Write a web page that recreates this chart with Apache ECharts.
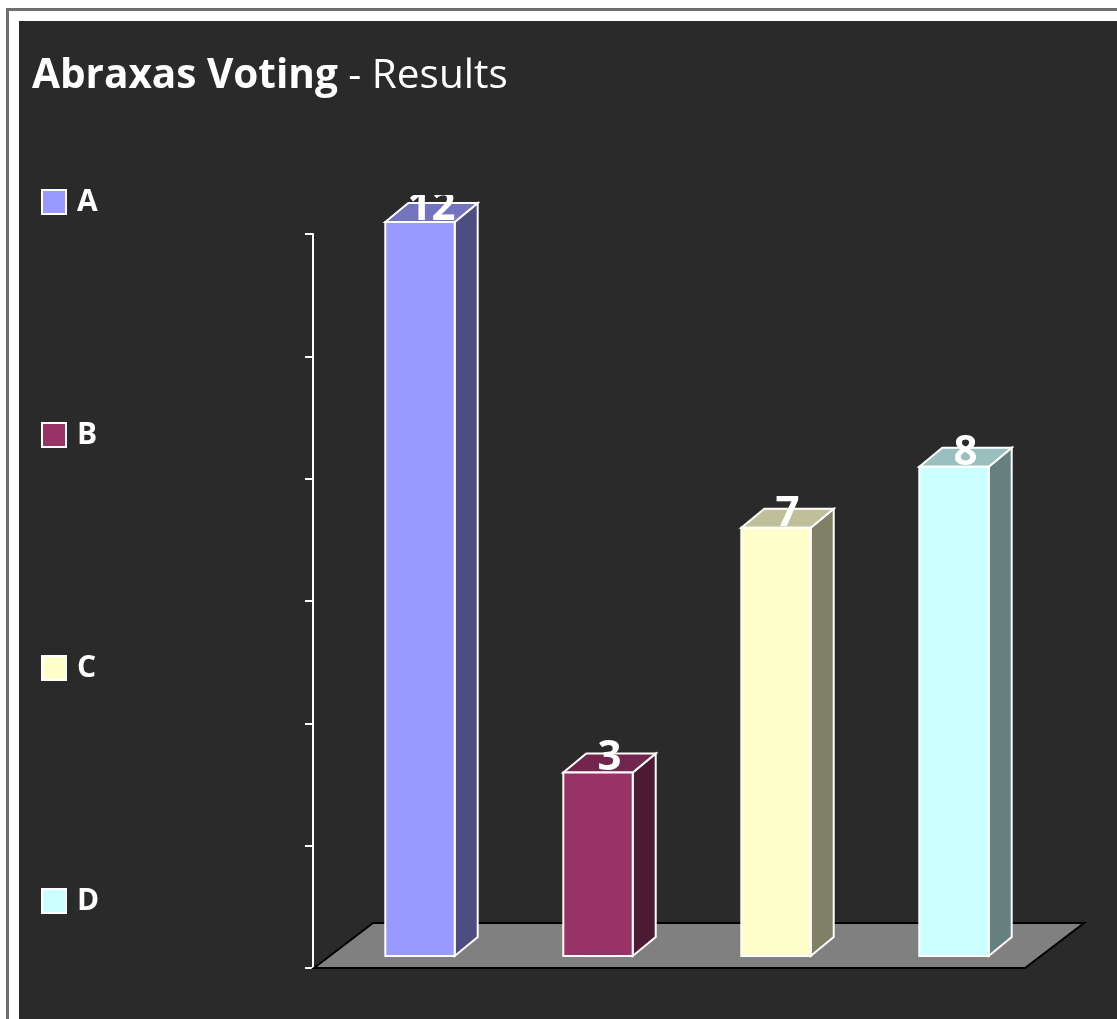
<!DOCTYPE html>
<html>
<head>
<meta charset="utf-8">
<script src="https://cdn.jsdelivr.net/npm/echarts@6/dist/echarts.min.js"></script>
<style>
  html, body { margin: 0; padding: 0; background: #ffffff; overflow: hidden; width: 1117px; height: 1019px; }
  #frame { position: absolute; left: 6px; top: 8px; width: 1200px; height: 1100px; border-top: 3px solid #6e6e6e; border-left: 3px solid #6e6e6e; }
  #chart { position: absolute; left: 19px; top: 21px; width: 1098px; height: 998px; background: #2a2a2a; }
</style>
</head>
<body>
<div id="frame"></div>
<div id="chart"></div>
<script>
const categories = ['A', 'B', 'C', 'D'];
const votes = [12, 3, 7, 8];
const axisTicks = [0, 2, 4, 6, 8, 10, 12];

const frontColors = ['#9999ff', '#993366', '#ffffcc', '#ccffff'];
const sideColors = ['#4d4d80', '#4d1a33', '#808066', '#668080'];
const topColors = ['#7373bf', '#73264d', '#bfbf99', '#99bfbf'];

const FONT = '"Open Sans", "Noto Sans", sans-serif';
const DX = 23, DY = -19;       // bar depth projection
const SX = 18, SY = -12;       // front face offset from floor front edge
const FDX = 59, FDY = -45;     // floor depth projection

const chart = echarts.init(document.getElementById('chart'), null, { renderer: 'canvas' });

function renderFloor(params, api) {
  const cs = params.coordSys;
  const yb = cs.y + cs.height;
  const xl = cs.x + 1, xr = cs.x + cs.width;
  return {
    type: 'polygon',
    shape: { points: [[xl, yb], [xr, yb], [xr + FDX, yb + FDY], [xl + FDX, yb + FDY]] },
    style: { fill: '#808080', stroke: '#000000', lineWidth: 2 }
  };
}

function makeRenderBar(idx) {
  return function (params, api) {
    const ci = api.value(0), v = api.value(1);
    const base = api.coord([ci, 0]);
    const top = api.coord([ci, v]);
    const bw = api.size([1, 0])[0] * 0.39;
    const x0 = base[0] + SX - bw / 2, x1 = x0 + bw;
    const yb = base[1] + SY, yt = top[1] + SY;
    const lineStyle = { stroke: '#ffffff', lineWidth: 2 };
    const cs = params.coordSys;
    return {
      type: 'group',
      children: [
        { type: 'polygon', shape: { points: [[x1, yt], [x1 + DX, yt + DY], [x1 + DX, yb + DY], [x1, yb]] },
          style: Object.assign({ fill: sideColors[idx] }, lineStyle) },
        { type: 'polygon', shape: { points: [[x0, yt], [x0 + DX, yt + DY], [x1 + DX, yt + DY], [x1, yt]] },
          style: Object.assign({ fill: topColors[idx] }, lineStyle) },
        { type: 'rect', shape: { x: x0, y: yt, width: bw, height: yb - yt },
          style: Object.assign({ fill: frontColors[idx] }, lineStyle) },
        { type: 'text',
          clipPath: { type: 'rect', shape: { x: 0, y: cs.y - 39, width: 3000, height: 3000 } },
          style: { text: String(v), x: (x0 + x1) / 2 + DX / 2, y: yt - 14,
                   align: 'center', verticalAlign: 'middle',
                   fill: '#ffffff', font: 'bold 42px ' + FONT } }
      ]
    };
  };
}

const series = [{
  type: 'custom', name: 'floor', silent: true, z: 1,
  renderItem: renderFloor, data: [[0, 0]]
}];
categories.forEach(function (c, i) {
  series.push({
    type: 'custom', name: c, z: 3,
    itemStyle: { color: frontColors[i] },
    renderItem: makeRenderBar(i),
    data: [[i, votes[i]]]
  });
});

chart.setOption({
  animation: false,
  backgroundColor: '#2a2a2a',
  title: {
    left: 8, top: 30,
    text: '{b|Abraxas Voting}{n| - Results}',
    textStyle: {
      rich: {
        b: { fontFamily: FONT, fontWeight: 'bold', fontSize: 40.5, color: '#ffffff' },
        n: { fontFamily: FONT, fontWeight: 'normal', fontSize: 40.5, color: '#ffffff' }
      }
    }
  },
  legend: {
    orient: 'vertical', left: 17, top: 161,
    data: categories,
    icon: 'rect', itemWidth: 24, itemHeight: 24, itemGap: 203,
    itemStyle: { borderColor: '#ffffff', borderWidth: 2 },
    textStyle: { color: '#ffffff', fontFamily: FONT, fontWeight: 'bold', fontSize: 30, padding: [0, 0, 0, 6] },
    selectedMode: false
  },
  grid: { left: 294, top: 213, width: 712, height: 734, containLabel: false },
  xAxis: { type: 'category', data: categories, show: false },
  yAxis: {
    type: 'value', min: axisTicks[0], max: axisTicks[axisTicks.length - 1], interval: axisTicks[1] - axisTicks[0],
    axisLine: { show: true, lineStyle: { color: '#ffffff', width: 2 } },
    axisTick: { show: true, length: 8, lineStyle: { color: '#ffffff', width: 2 } },
    axisLabel: { show: false },
    splitLine: { show: false }
  },
  series: series
});
</script>
</body>
</html>
